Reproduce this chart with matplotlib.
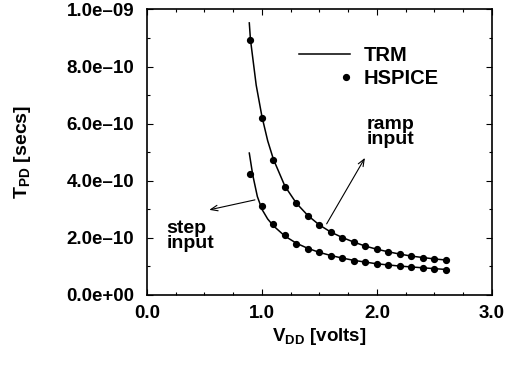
import numpy as np
import matplotlib.pyplot as plt
from matplotlib.ticker import MultipleLocator, FuncFormatter
from matplotlib.legend_handler import HandlerLine2D

plt.rcParams['font.family'] = ['Liberation Sans', 'DejaVu Sans']
plt.rcParams['font.weight'] = 'bold'
plt.rcParams['mathtext.fontset'] = 'custom'
plt.rcParams['mathtext.rm'] = 'Liberation Sans:bold'
plt.rcParams['mathtext.bf'] = 'Liberation Sans:bold'

# HSPICE simulation points
vdd_pts = [0.9, 1.0, 1.1, 1.2, 1.3, 1.4, 1.5, 1.6, 1.7, 1.8,
           1.9, 2.0, 2.1, 2.2, 2.3, 2.4, 2.5, 2.6]
ramp_pts = [0.892, 0.620, 0.471, 0.378, 0.322, 0.277, 0.245, 0.220, 0.201, 0.185,
            0.172, 0.160, 0.151, 0.143, 0.136, 0.131, 0.126, 0.123]
step_pts = [0.425, 0.312, 0.247, 0.209, 0.180, 0.162, 0.150, 0.137, 0.130, 0.120,
            0.115, 0.109, 0.105, 0.102, 0.098, 0.096, 0.092, 0.089]

# TRM model curves
vdd_ramp = [0.89, 0.9, 0.95, 1.0, 1.05, 1.1, 1.2, 1.3, 1.4, 1.5, 1.6, 1.7, 1.8,
            1.9, 2.0, 2.1, 2.2, 2.3, 2.4, 2.5, 2.61]
ramp_trm = [0.953, 0.895, 0.735, 0.625, 0.540, 0.475, 0.381, 0.321, 0.278, 0.245,
            0.220, 0.201, 0.185, 0.171, 0.160, 0.151, 0.143, 0.136, 0.131, 0.126, 0.122]
vdd_step = [0.89, 0.92, 0.96, 1.0, 1.05, 1.1, 1.2, 1.3, 1.4, 1.5, 1.6, 1.7, 1.8,
            1.9, 2.0, 2.1, 2.2, 2.3, 2.4, 2.5, 2.61]
step_trm = [0.497, 0.420, 0.345, 0.300, 0.266, 0.242, 0.206, 0.181, 0.163, 0.149,
            0.138, 0.129, 0.121, 0.115, 0.109, 0.105, 0.101, 0.098, 0.095, 0.092, 0.089]

scale = 1e-9


class RightDot(HandlerLine2D):
    # single legend marker at the right end of the handle area
    def get_xdata(self, legend, xdescent, ydescent, width, height, fontsize):
        x = -xdescent + width - 3
        return np.array([x, x]), np.array([x])


fig = plt.figure(figsize=(5.06, 3.65), dpi=100)
ax = fig.add_axes([0.2905, 0.192, 0.6815, 0.782])

ax.plot(vdd_ramp, [v * scale for v in ramp_trm], color='black', lw=1.1, label='TRM')
ax.plot(vdd_step, [v * scale for v in step_trm], color='black', lw=1.1)
pts, = ax.plot(vdd_pts, [v * scale for v in ramp_pts], 'o', color='black', ms=4.2, label='HSPICE')
ax.plot(vdd_pts, [v * scale for v in step_pts], 'o', color='black', ms=4.2)

ax.set_xlim(0, 3.0)
ax.set_ylim(0, 1e-9)
ax.xaxis.set_major_locator(MultipleLocator(1.0))
ax.xaxis.set_minor_locator(MultipleLocator(0.25))
ax.yaxis.set_major_locator(MultipleLocator(2e-10))
ax.yaxis.set_minor_locator(MultipleLocator(1e-10))
ax.xaxis.set_major_formatter(FuncFormatter(lambda v, p: '%.1f' % v))
ax.yaxis.set_major_formatter(FuncFormatter(lambda v, p: ('%.1e' % v).replace('-', '\u2013')))
ax.tick_params(which='both', direction='in', top=True, right=True, width=0.8)
ax.tick_params(which='major', length=4)
ax.tick_params(which='minor', length=2.5)
ax.tick_params(axis='y', labelsize=13.5, pad=9)
ax.tick_params(axis='x', labelsize=13.5, pad=7)
for s in ax.spines.values():
    s.set_linewidth(1.2)

ax.set_xlabel(r'$\mathbf{V_{DD}}$ [volts]', fontsize=13.5, fontweight='bold', labelpad=3)
ax.set_ylabel(r'$\mathbf{T_{PD}}$ [secs]', fontsize=14, fontweight='bold', labelpad=24)

ax.legend(loc='upper left', bbox_to_anchor=(0.442, 0.873), frameon=False,
          handlelength=2.5, handletextpad=0.7, labelspacing=0.2,
          borderpad=0, borderaxespad=0,
          handler_map={pts: RightDot()},
          prop={'weight': 'bold', 'size': 14.5})

arrow = dict(arrowstyle='->,head_length=0.5,head_width=0.2', color='black', lw=0.8,
             shrinkA=0, shrinkB=0)
ax.annotate('', xy=(1.896, 0.48e-9), xytext=(1.563, 0.249e-9), arrowprops=arrow)
ax.text(1.91, 0.572e-9, 'ramp\ninput', fontsize=14, fontweight='bold',
        linespacing=0.85, ha='left', va='center')
ax.annotate('', xy=(0.542, 0.298e-9), xytext=(0.939, 0.333e-9), arrowprops=arrow)
ax.text(0.17, 0.207e-9, 'step\ninput', fontsize=14, fontweight='bold',
        linespacing=0.85, ha='left', va='center')

fig.savefig('out.png', dpi=100)
